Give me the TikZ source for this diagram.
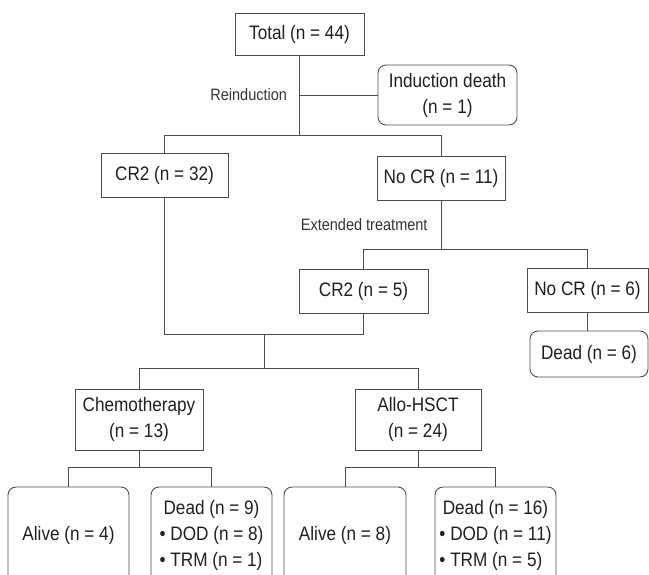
\documentclass[tikz,border=0pt]{standalone}
\usepackage{fontspec}
\setmainfont{Liberation Sans}[FakeStretch=0.88]
\usepackage{tikz}
\usepackage{xcolor}

\begin{document}
\begin{tikzpicture}[x=1pt, y=-1pt, line width=0.9pt, draw=black!70, text=black!88,
  box/.style={draw, minimum width=128, minimum height=44, inner sep=2pt, align=center, font=\fontsize{19.5}{26}\selectfont},
  rbox/.style={box, rounded corners=8pt},
  lbl/.style={inner sep=0pt, text=black!80, font=\fontsize{16.5}{20}\selectfont}]
\useasboundingbox (0,0) rectangle (649,574);
\node[box,minimum width=129,minimum height=42] (total) at (299.5,34) {Total (n = 44)};
\node[rbox,minimum width=139,minimum height=60] (induct) at (447.5,95) {Induction death\\(n = 1)};
\node[box,minimum width=127] (cra) at (164.5,175) {CR2 (n = 32)};
\node[box] (nocra) at (441,178) {No CR (n = 11)};
\node[box,minimum width=129] (crb) at (363.5,291) {CR2 (n = 5)};
\node[box,minimum width=121] (nocrb) at (587.5,290.5) {No CR (n = 6)};
\node[rbox,minimum width=118,minimum height=46] (deadc) at (589,354) {Dead (n = 6)};
\node[box,minimum height=61] (chemo) at (139,419.5) {Chemotherapy\\(n = 13)};
\node[box,minimum width=126,minimum height=61] (allo) at (418,419.5) {Allo-HSCT\\(n = 24)};
\node[rbox,minimum width=121,minimum height=96] (alivea) at (68.5,535) {Alive (n = 4)};
\node[rbox,minimum width=121,minimum height=96] (deada) at (211.5,535)
  {\begin{tabular}{@{}l@{}}\multicolumn{1}{@{}c@{}}{Dead (n = 9)}\\\textbullet\ DOD (n = 8)\\\textbullet\ TRM (n = 1)\end{tabular}};
\node[rbox,minimum width=122,minimum height=96] (aliveb) at (345,535) {Alive (n = 8)};
\node[rbox,minimum width=121,minimum height=96] (deadb) at (495.5,535)
  {\begin{tabular}{@{}l@{}}\multicolumn{1}{@{}c@{}}{Dead (n = 16)}\\\textbullet\ DOD (n = 11)\\\textbullet\ TRM (n = 5)\end{tabular}};
\draw (total.south) -- ++(0,80) coordinate (j1);
\draw (total.south |- induct.west) -- (induct.west) node[pos=0,left=12pt,lbl] {Reinduction};
\draw (cra.north) |- (j1) -| (nocra.north);
\draw (nocra.south) -- ++(0,49) coordinate (j2) node[midway,left=13pt,lbl] {Extended treatment};
\draw (crb.north) |- (j2) -| (nocrb.north);
\draw (nocrb.south) -- (nocrb.south |- deadc.north);
\draw (cra.south) -- ++(0,137) coordinate (j3) -- (j3 -| crb.south) coordinate (j3b) -- (crb.south);
\path (j3) -- (j3b) coordinate[midway] (j4);
\draw (j4) -- ++(0,34) coordinate (j5);
\draw (chemo.north) |- (j5) -| (allo.north);
\draw (chemo.south) -- ++(0,17) coordinate (j6);
\draw (alivea.north) |- (j6) -| (deada.north);
\draw (allo.south) -- ++(0,17) coordinate (j7);
\draw (aliveb.north) |- (j7) -| (deadb.north);
\end{tikzpicture}
\end{document}
